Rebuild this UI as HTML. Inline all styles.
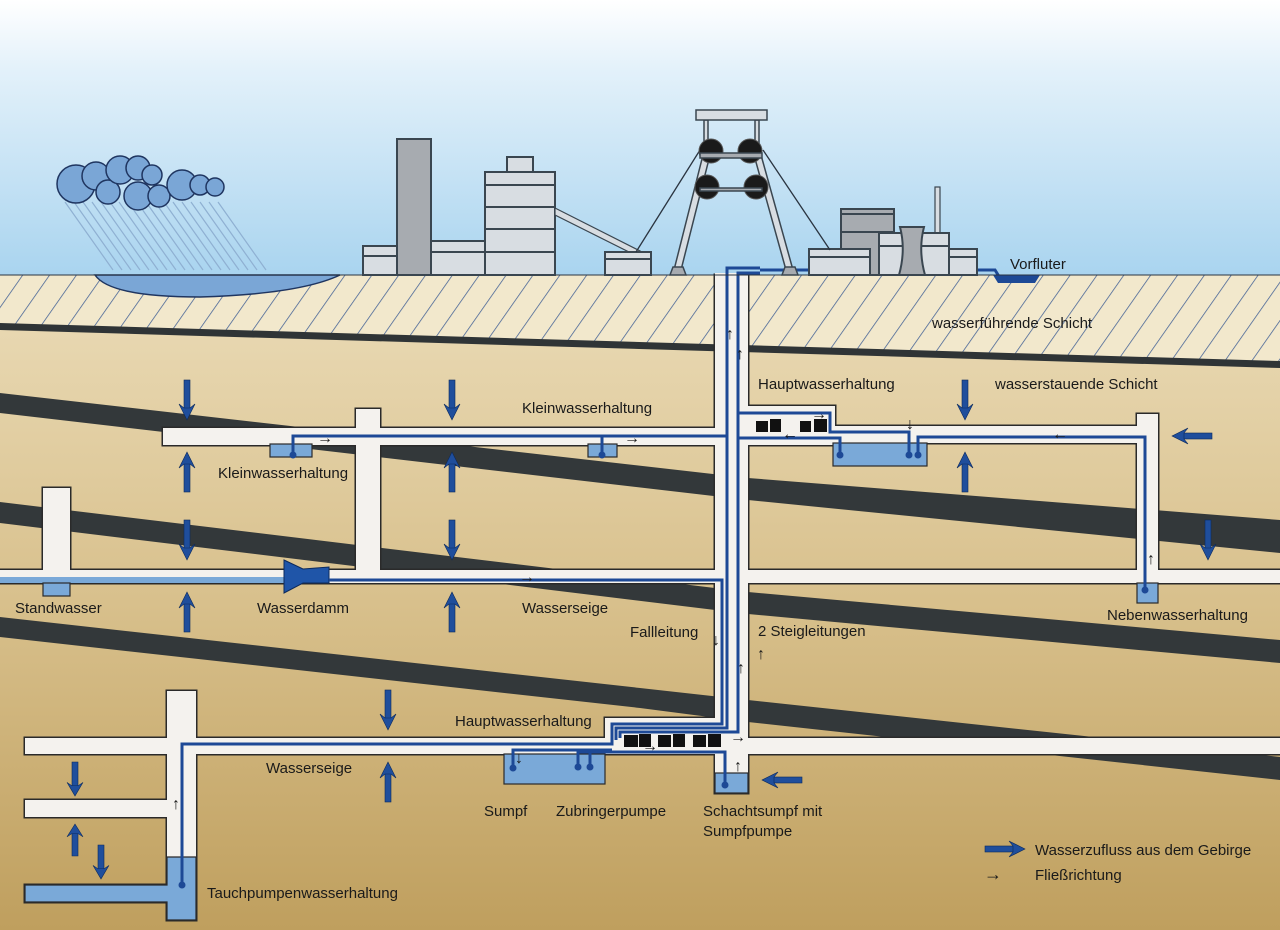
<!DOCTYPE html>
<html><head><meta charset="utf-8"><style>
html,body{margin:0;padding:0;width:1280px;height:930px;overflow:hidden;background:#fff}
svg{display:block}
text{font-family:"Liberation Sans",sans-serif;font-size:15px;fill:#1a1a1a}
text.sa{font-size:16px;font-weight:bold}
</style></head><body>
<svg width="1280" height="930" viewBox="0 0 1280 930" xmlns="http://www.w3.org/2000/svg">
<defs>
<linearGradient id="sky" x1="0" y1="0" x2="0" y2="1">
<stop offset="0" stop-color="#ffffff"/><stop offset="0.25" stop-color="#e3f1fa"/><stop offset="1" stop-color="#a9d4ef"/></linearGradient>
<linearGradient id="earth" x1="0" y1="0" x2="0" y2="1">
<stop offset="0" stop-color="#ebdcb8"/><stop offset="0.5" stop-color="#d8c08c"/><stop offset="1" stop-color="#bf9f5e"/></linearGradient>
<pattern id="hatch" width="22" height="22" patternUnits="userSpaceOnUse" patternTransform="rotate(35)">
<rect width="22" height="22" fill="#f2e8cc"/><line x1="0" y1="0" x2="0" y2="22" stroke="#3f5e94" stroke-width="1.5"/></pattern>
<g id="ad"><rect x="-3" y="0" width="6" height="30" fill="#1f4e9c" stroke="#0d2a5c" stroke-width="0.6"/><polygon points="-8,24 -3,28 3,28 8,24 0,40" fill="#1f4e9c" stroke="#0d2a5c" stroke-width="0.6"/></g>
</defs>
<rect width="1280" height="276" fill="url(#sky)"/>
<rect y="275" width="1280" height="655" fill="url(#earth)"/>
<polygon points="0,275 1280,275 1280,363 0,324" fill="url(#hatch)"/>
<polygon points="0,323 1280,361 1280,368 0,330" fill="#2f3436"/>
<g fill="#33383a">
<polygon points="0,393 748,478 1280,520 1280,553 748,500 0,413"/>
<polygon points="0,502 748,592 1280,640 1280,663 748,614 0,523"/>
<polygon points="0,617 640,688 748,700 1280,757 1280,780 748,722 640,708 0,637"/>
</g>
<g fill="#f4f2ee" stroke="#2a2a2a" stroke-width="3">
<rect x="163" y="428" width="552" height="17"/><rect x="356" y="409" width="24" height="170"/>
<rect x="748" y="406" width="87" height="39"/><rect x="748" y="426" width="410" height="17"/>
<rect x="1137" y="414" width="21" height="160"/><rect x="0" y="570" width="1280" height="13"/>
<rect x="43" y="488" width="27" height="90"/><rect x="715" y="275" width="33" height="490"/>
<rect x="715" y="754" width="33" height="39"/><rect x="25" y="738" width="142" height="16"/>
<rect x="167" y="691" width="29" height="229"/><rect x="196" y="738" width="519" height="16"/>
<rect x="605" y="718" width="110" height="36"/><rect x="748" y="738" width="532" height="16"/>
<rect x="25" y="800" width="142" height="17"/><rect x="25" y="885" width="142" height="17"/>
</g>
<g fill="#f4f2ee">
<rect x="163" y="428" width="552" height="17"/><rect x="356" y="409" width="24" height="170"/>
<rect x="748" y="406" width="87" height="39"/><rect x="748" y="426" width="410" height="17"/>
<rect x="1137" y="414" width="21" height="160"/><rect x="0" y="570" width="1280" height="13"/>
<rect x="43" y="488" width="27" height="90"/><rect x="715" y="273" width="33" height="492"/>
<rect x="715" y="754" width="33" height="39"/><rect x="25" y="738" width="142" height="16"/>
<rect x="167" y="691" width="29" height="229"/><rect x="196" y="738" width="519" height="16"/>
<rect x="605" y="718" width="110" height="36"/><rect x="748" y="738" width="532" height="16"/>
<rect x="25" y="800" width="142" height="17"/><rect x="25" y="885" width="142" height="17"/>
</g>
<g fill="#7aa9d8" stroke="#2a2a2a" stroke-width="1.2">
<rect x="0" y="577" width="284" height="6" stroke="none"/>
<rect x="43" y="583" width="27" height="13"/>
<rect x="270" y="444" width="42" height="13"/><rect x="588" y="444" width="29" height="13"/>
<rect x="833" y="443" width="94" height="23"/><rect x="1137" y="583" width="21" height="20"/>
<rect x="504" y="754" width="101" height="30"/><rect x="715" y="773" width="33" height="20"/>
<rect x="25" y="885" width="142" height="17" stroke="none"/><rect x="167" y="857" width="29" height="63" stroke="none"/>
</g>
<path d="M25,885 H167 V857 H196 V920 H167 V902 H25 Z" fill="none" stroke="#2a2a2a" stroke-width="1.2"/>
<polygon points="284,560 303,569 329,567 329,583 303,583 284,593" fill="#1f55a8" stroke="#0d2a5c" stroke-width="1"/>
<g fill="none" stroke="#1d4996" stroke-width="3">
<path d="M293,455 V436 H727"/><path d="M602,455 V436"/>
<path d="M727,722 V268 H760"/><path d="M738,722 V273 H760"/>
<path d="M760,270 H995 L1000,278 H1035"/>
<path d="M738,413 H830 V432 H909 V455"/><path d="M738,438 H840 V455"/>
<path d="M918,455 V437 H1145 V590"/>
<path d="M329,580 H722 V724 H612 V744 H182 V885"/>
<path d="M727,722 V728 H616 V740"/><path d="M738,722 V732 H620 V738"/>
<path d="M513,768 V750 H612"/>
<path d="M578,767 V752 H725 V785"/><path d="M590,767 V752"/>
</g>
<polygon points="993,275 1040,275 1035,283 998,283" fill="#1d4996"/>
<g fill="#1d4996">
<circle cx="293" cy="455" r="3.5"/><circle cx="602" cy="455" r="3.5"/><circle cx="909" cy="455" r="3.5"/>
<circle cx="840" cy="455" r="3.5"/><circle cx="918" cy="455" r="3.5"/><circle cx="1145" cy="590" r="3.5"/>
<circle cx="513" cy="768" r="3.5"/><circle cx="578" cy="767" r="3.5"/><circle cx="590" cy="767" r="3.5"/>
<circle cx="725" cy="785" r="3.5"/><circle cx="182" cy="885" r="3.5"/>
</g>
<g fill="#111">
<rect x="756" y="421" width="12" height="11"/><rect x="770" y="419" width="11" height="13"/>
<rect x="800" y="421" width="11" height="11"/><rect x="814" y="419" width="13" height="13"/>
<rect x="624" y="735" width="14" height="12"/><rect x="639" y="734" width="12" height="13"/>
<rect x="658" y="735" width="13" height="12"/><rect x="673" y="734" width="12" height="13"/>
<rect x="693" y="735" width="13" height="12"/><rect x="708" y="734" width="13" height="13"/>
</g>
<use href="#ad" transform="translate(187,380)"/><use href="#ad" transform="translate(187,492) rotate(180)"/>
<use href="#ad" transform="translate(187,520)"/><use href="#ad" transform="translate(187,632) rotate(180)"/>
<use href="#ad" transform="translate(452,380)"/><use href="#ad" transform="translate(452,492) rotate(180)"/>
<use href="#ad" transform="translate(452,520)"/><use href="#ad" transform="translate(452,632) rotate(180)"/>
<use href="#ad" transform="translate(965,380)"/><use href="#ad" transform="translate(965,492) rotate(180)"/>
<use href="#ad" transform="translate(1208,520)"/>
<use href="#ad" transform="translate(388,690)"/><use href="#ad" transform="translate(388,802) rotate(180)"/>
<use href="#ad" transform="translate(75,762) scale(1,0.85)"/><use href="#ad" transform="translate(75,856) rotate(180) scale(1,0.8)"/>
<use href="#ad" transform="translate(101,845) scale(1,0.85)"/>
<use href="#ad" transform="translate(1212,436) rotate(90)"/>
<use href="#ad" transform="translate(802,780) rotate(90)"/>
<use href="#ad" transform="translate(985,849) rotate(-90)"/>
<g>
<text class="sa" x="317" y="443">→</text><text class="sa" x="624" y="443">→</text>
<text class="sa" x="519" y="582">→</text><text class="sa" x="811" y="419">→</text>
<text class="sa" x="782" y="439">←</text><text class="sa" x="1052" y="439">←</text>
<text class="sa" x="906" y="429">↓</text><text class="sa" x="736" y="359">↑</text>
<text class="sa" x="726" y="339">↑</text><text class="sa" x="712" y="645">↓</text>
<text class="sa" x="737" y="673">↑</text><text class="sa" x="757" y="659">↑</text>
<text class="sa" x="1147" y="564">↑</text><text class="sa" x="172" y="809">↑</text>
<text class="sa" x="515" y="763">↓</text><text class="sa" x="642" y="751">→</text>
<text class="sa" x="730" y="742">→</text><text class="sa" x="734" y="771">↑</text>
<text class="sa" x="984" y="880" style="font-size:18px">→</text>
</g>
<g stroke="#8fb0d2" stroke-width="1.2">
<line x1="65" y1="202" x2="113" y2="270"/><line x1="74" y1="202" x2="122" y2="270"/><line x1="83" y1="202" x2="131" y2="270"/>
<line x1="92" y1="202" x2="140" y2="270"/><line x1="101" y1="202" x2="149" y2="270"/><line x1="110" y1="202" x2="158" y2="270"/>
<line x1="119" y1="202" x2="167" y2="270"/><line x1="128" y1="202" x2="176" y2="270"/><line x1="137" y1="202" x2="185" y2="270"/>
<line x1="146" y1="202" x2="194" y2="270"/><line x1="155" y1="202" x2="203" y2="270"/><line x1="164" y1="202" x2="212" y2="270"/>
<line x1="173" y1="202" x2="221" y2="270"/><line x1="182" y1="202" x2="230" y2="270"/><line x1="191" y1="202" x2="239" y2="270"/>
<line x1="200" y1="202" x2="248" y2="270"/><line x1="209" y1="202" x2="257" y2="270"/><line x1="218" y1="202" x2="266" y2="270"/>
</g>
<g fill="#7aa6d6" stroke="#1f3560" stroke-width="1.5">
<circle cx="76" cy="184" r="19"/><circle cx="96" cy="176" r="14"/><circle cx="108" cy="192" r="12"/>
<circle cx="120" cy="170" r="14"/><circle cx="138" cy="168" r="12"/><circle cx="152" cy="175" r="10"/>
<circle cx="138" cy="196" r="14"/><circle cx="159" cy="196" r="11"/><circle cx="182" cy="185" r="15"/>
<circle cx="200" cy="185" r="10"/><circle cx="215" cy="187" r="9"/>
</g>
<path d="M95,275 Q110,297 200,297 Q300,294 340,275 Z" fill="#7aa6d6" stroke="#1f3560" stroke-width="1.5"/>
<line x1="0" y1="275" x2="1280" y2="275" stroke="#2a3440" stroke-width="1"/>
<g stroke="#3a4650" stroke-width="2" fill="#d8dde2">
<rect x="363" y="246" width="34" height="29"/><line x1="363" y1="256" x2="397" y2="256"/>
<rect x="397" y="139" width="34" height="136" fill="#a7abb0"/>
<rect x="431" y="241" width="54" height="34"/><line x1="431" y1="252" x2="485" y2="252"/>
<rect x="507" y="157" width="26" height="15"/>
<rect x="485" y="172" width="70" height="103"/>
<line x1="485" y1="185" x2="555" y2="185"/><line x1="485" y1="207" x2="555" y2="207"/><line x1="485" y1="229" x2="555" y2="229"/><line x1="485" y1="252" x2="555" y2="252"/>
<polygon points="555,208 640,251 635,255 555,215" fill="#d8dde2" stroke-width="1.2"/>
<rect x="605" y="252" width="46" height="23"/><line x1="605" y1="259" x2="651" y2="259"/>
<rect x="841" y="209" width="53" height="66" fill="#a7abb0"/><line x1="841" y1="214" x2="894" y2="214"/><line x1="841" y1="232" x2="894" y2="232"/>
<rect x="809" y="249" width="61" height="26"/><line x1="809" y1="257" x2="870" y2="257"/>
<rect x="935" y="187" width="5" height="48" stroke-width="1.2"/>
<rect x="879" y="233" width="70" height="42"/><line x1="879" y1="246" x2="949" y2="246"/>
<path d="M899,275 Q906,250 900,227 H924 Q918,250 925,275 Z" fill="#a7abb0"/>
<rect x="949" y="249" width="28" height="26"/><line x1="949" y1="257" x2="977" y2="257"/>
</g>
<g stroke="#2a3440" stroke-width="1.3">
<line x1="700" y1="150" x2="636" y2="252"/><line x1="763" y1="150" x2="830" y2="250"/>
</g>
<g fill="#d8dde2" stroke="#3a4650" stroke-width="1.5">
<rect x="704" y="120" width="4" height="35"/><rect x="755" y="120" width="4" height="35"/>
<polygon points="703,155 710,155 681,270 674,270"/><polygon points="754,155 761,155 793,270 786,270"/>
</g>
<g fill="#1a1a1a" stroke="#555" stroke-width="1">
<circle cx="711" cy="151" r="12"/><circle cx="750" cy="151" r="12"/>
<circle cx="707" cy="187" r="12"/><circle cx="756" cy="187" r="12"/>
</g>
<g fill="#a7abb0" stroke="#3a4650" stroke-width="1.5">
<rect x="696" y="110" width="71" height="10" fill="#d8dde2"/>
<rect x="700" y="153" width="62" height="5"/><rect x="700" y="188" width="62" height="3"/>
<polygon points="670,275 686,275 683,267 673,267"/><polygon points="782,275 798,275 795,267 785,267"/>
</g>
<text x="1010" y="269">Vorfluter</text>
<text x="932" y="328">wasserführende Schicht</text>
<text x="758" y="389">Hauptwasserhaltung</text>
<text x="995" y="389">wasserstauende Schicht</text>
<text x="522" y="413">Kleinwasserhaltung</text>
<text x="218" y="478">Kleinwasserhaltung</text>
<text x="15" y="613">Standwasser</text>
<text x="257" y="613">Wasserdamm</text>
<text x="522" y="613">Wasserseige</text>
<text x="630" y="637">Fallleitung</text>
<text x="758" y="636">2 Steigleitungen</text>
<text x="1107" y="620">Nebenwasserhaltung</text>
<text x="455" y="726">Hauptwasserhaltung</text>
<text x="266" y="773">Wasserseige</text>
<text x="484" y="816">Sumpf</text>
<text x="556" y="816">Zubringerpumpe</text>
<text x="703" y="816">Schachtsumpf mit</text>
<text x="703" y="836">Sumpfpumpe</text>
<text x="1035" y="855">Wasserzufluss aus dem Gebirge</text>
<text x="1035" y="880">Fließrichtung</text>
<text x="207" y="898">Tauchpumpenwasserhaltung</text>
</svg>
</body></html>
